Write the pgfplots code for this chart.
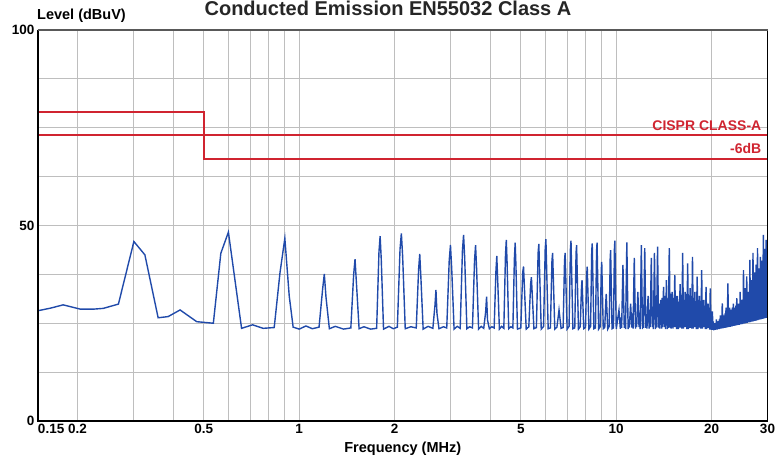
\documentclass[border=0pt]{standalone}
\usepackage{fontspec}
\setmainfont{Liberation Sans}
\usepackage{pgfplots}
\pgfplotsset{compat=1.18}

\definecolor{tracecol}{RGB}{32,74,170}
\definecolor{limitred}{RGB}{208,36,48}
\definecolor{gridgray}{RGB}{190,190,190}

\begin{document}
\begin{tikzpicture}
\begin{axis}[
    name=ax, at={(0,0)}, anchor=south west,
    scale only axis, width=729.5pt, height=391pt,
    xmode=log, xmin=0.15, xmax=30, ymin=0, ymax=100,
    xtick={0.15,0.2,0.5,1,2,5,10,20,30},
    xticklabels={\makebox[0pt][l]{0.15},0.2,0.5,1,2,5,10,20,30},
    minor xtick={0.3,0.4,0.6,0.7,0.8,0.9,3,4,6,7,8,9},
    ytick={0,50,100}, yticklabels={0,50,100},
    minor ytick={12.5,25,37.5,62.5,75,87.5},
    grid=both,
    grid style={gridgray, line width=1pt},
    major grid style={gridgray, line width=1pt},
    major tick length=0pt, minor tick length=0pt,
    axis line style={draw=none},
    tick label style={font=\fontsize{13.5}{15}\selectfont\bfseries},
    xlabel={Frequency (MHz)},
    xlabel style={font=\fontsize{14.5}{16}\selectfont\bfseries,
        at={(axis description cs:0.5,0)}, anchor=base, yshift=-32pt},
]

% limit lines: CISPR class A and the -6 dB margin
\addplot[limitred, line width=1.5pt] coordinates {(0.15,79) (0.5,79) (0.5,67) (30,67)};
\addplot[limitred, line width=1.8pt] coordinates {(0.15,73.2) (0.5,73.2) (30,73.2)};

% measured trace
\addplot[tracecol, line width=1.4pt] coordinates {
    (0.150,28.2) (0.165,28.9) (0.180,29.7) (0.204,28.6) (0.224,28.6) (0.241,28.8)
    (0.269,29.9) (0.301,45.9) (0.326,42.5) (0.359,26.4) (0.386,26.7) (0.421,28.4)
    (0.475,25.4) (0.536,25.0) (0.566,42.9) (0.598,48.3) (0.658,23.7) (0.713,24.6)
    (0.770,23.7) (0.834,23.9) (0.870,38.0) (0.901,46.7) (0.930,32.0) (0.957,24.0)
    (1.00,23.5) (1.05,24.3) (1.10,23.6)
    (1.155,24.0) (1.185,33.6) (1.200,37.6) (1.215,31.6) (1.245,23.6)
    (1.30,24.2) (1.38,23.5)
    (1.455,23.8) (1.485,37.4) (1.500,41.4) (1.515,35.4) (1.545,23.6)
    (1.60,24.1) (1.68,23.5)
    (1.755,23.7) (1.785,43.3) (1.800,47.3) (1.815,41.3) (1.845,23.5)
    (1.92,24.2) (1.98,23.6)
    (2.040,24.0) (2.080,44.0) (2.100,48.0) (2.120,42.0) (2.160,23.6)
    (2.25,24.1)
    (2.340,23.8) (2.380,38.7) (2.400,42.7) (2.420,36.7) (2.460,23.5)
    (2.55,24.2)
    (2.640,23.7) (2.680,29.5) (2.700,33.5) (2.720,27.5) (2.760,23.6)
    (2.85,24.1)
    (2.920,23.8) (2.973,41.0) (3.000,45.0) (3.027,39.0) (3.080,23.5)
    (3.15,24.2)
    (3.220,23.7) (3.273,43.6) (3.300,47.6) (3.327,41.6) (3.380,23.6)
    (3.45,24.1)
    (3.520,23.8) (3.573,41.0) (3.600,45.0) (3.627,39.0) (3.680,23.5)
    (3.75,24.2)
    (3.820,23.7) (3.873,27.8) (3.900,31.8) (3.927,25.8) (3.980,23.6)
    (4.05,24.1)
    (4.120,23.8) (4.173,38.2) (4.200,42.2) (4.227,36.2) (4.280,23.5)
    (4.35,24.2)
    (4.420,23.7) (4.473,42.3) (4.500,46.3) (4.527,40.3) (4.580,23.6)
    (4.65,24.1)
    (4.720,23.8) (4.773,41.6) (4.800,45.6) (4.827,39.6) (4.880,23.5)
    (5.0,23.8) (5.07,38.0) (5.1,39.5) (5.2,23.5)
    (5.3,24.1) (5.37,35.0) (5.4,36.8) (5.5,23.6)
    (5.6,23.9) (5.67,43.0) (5.7,45.3) (5.8,23.5)
    (5.9,24.2) (5.97,44.0) (6.0,46.5) (6.1,23.6)
    (6.2,23.8) (6.27,41.0) (6.3,43.0) (6.4,23.5)
    (6.5,24.0) (6.57,27.0) (6.6,28.4) (6.7,23.7)
    (6.8,23.9) (6.87,41.0) (6.9,43.0) (7.0,23.5)
    (7.1,24.2) (7.17,44.0) (7.2,46.1) (7.3,23.6)
    (7.4,23.8) (7.47,43.0) (7.5,45.0) (7.6,23.5)
    (7.7,24.1) (7.77,34.0) (7.8,36.0) (7.9,23.6)
    (8.0,23.9) (8.07,37.5) (8.1,39.5) (8.2,23.5)
    (8.3,24.2) (8.37,43.5) (8.4,45.4) (8.5,23.6)
    (8.6,23.8) (8.67,43.5) (8.7,45.6) (8.8,23.5)
    (8.9,24.1) (8.97,38.5) (9.0,40.7) (9.1,23.6)
    (9.2,23.9) (9.27,30.5) (9.3,32.5) (9.4,23.5)
    (9.5,24.2) (9.57,41.5) (9.6,43.7) (9.7,23.6)
    (9.8,23.8) (9.87,44.0) (9.9,46.1) (10.0,23.5)
    (10.2,28.4) (10.3,23.6) (10.35,26.5) (10.4,23.8)
    (10.5,39.9) (10.6,23.8) (10.65,27.0) (10.7,23.5)
    (10.8,45.7) (10.9,23.5) (10.95,26.0) (11.0,23.9)
    (11.1,30.0) (11.2,23.9) (11.25,27.5) (11.3,23.6)
    (11.4,41.7) (11.5,23.6) (11.55,26.5) (11.6,24.0)
    (11.7,33.0) (11.8,24.0) (11.85,27.0) (11.9,23.5)
    (12.0,45.0) (12.1,23.5) (12.15,28.0) (12.2,23.8)
    (12.3,44.2) (12.4,23.8) (12.45,27.0) (12.5,23.6)
    (12.6,32.0) (12.7,23.6) (12.75,28.5) (12.8,24.0)
    (12.9,41.7) (13.0,24.0) (13.05,27.5) (13.1,23.5)
    (13.2,43.0) (13.3,23.5) (13.35,29.0) (13.4,23.9)
    (13.5,44.6) (13.6,23.9) (13.65,30.0) (13.7,23.6)
    (13.8,31.0) (13.9,23.6) (13.95,31.5) (14.0,24.0)
    (14.1,34.3) (14.2,24.0) (14.25,32.0) (14.3,23.5)
    (14.4,36.0) (14.5,23.5) (14.55,31.0) (14.6,23.8)
    (14.7,44.2) (14.8,23.8) (14.85,32.5) (14.9,23.6)
    (15.0,33.0) (15.1,23.6) (15.15,31.5) (15.2,24.0)
    (15.3,37.3) (15.4,24.0) (15.45,32.0) (15.5,23.5)
    (15.6,32.0) (15.7,23.5) (15.75,30.5) (15.8,23.9)
    (15.9,35.0) (16.0,23.9) (16.05,32.0) (16.1,23.6)
    (16.2,43.0) (16.3,23.6) (16.35,31.0) (16.4,24.0)
    (16.5,33.0) (16.6,24.0) (16.65,32.5) (16.7,23.5)
    (16.8,40.3) (16.9,23.5) (16.95,31.0) (17.0,23.8)
    (17.1,34.0) (17.2,23.8) (17.25,32.0) (17.3,23.6)
    (17.4,42.0) (17.5,23.6) (17.55,31.5) (17.6,24.0)
    (17.7,33.0) (17.8,24.0) (17.85,30.5) (17.9,23.5)
    (18.0,36.9) (18.1,23.5) (18.15,31.0) (18.2,23.9)
    (18.3,32.0) (18.4,23.9) (18.45,30.0) (18.5,23.6)
    (18.6,38.6) (18.7,23.6) (18.75,30.5) (18.8,24.0)
    (18.9,31.0) (19.0,24.0) (19.05,29.5) (19.1,23.5)
    (19.2,34.3) (19.3,23.5) (19.35,29.0) (19.4,23.8)
    (19.5,30.0) (19.6,23.8) (19.65,28.5) (19.7,23.4)
    (19.8,33.9) (19.9,23.4) (19.95,27.0) (20.0,23.3)
    (20.1,28.0) (20.2,23.3) (20.25,25.5) (20.3,23.2)
    (20.4,25.0) (20.5,23.3) (20.55,25.0) (20.6,23.4)
    (20.7,26.0) (20.8,23.4) (20.85,25.5) (20.9,23.5)
    (21.0,25.5) (21.1,23.5) (21.15,26.0) (21.2,23.6)
    (21.3,27.0) (21.4,23.6) (21.45,26.5) (21.5,23.7)
    (21.6,30.1) (21.7,23.7) (21.75,27.0) (21.8,23.8)
    (21.9,27.0) (22.0,23.8) (22.05,27.5) (22.1,23.9)
    (22.2,29.0) (22.3,23.9) (22.35,28.0) (22.4,24.0)
    (22.5,35.2) (22.6,24.0) (22.65,28.5) (22.7,24.1)
    (22.8,29.0) (22.9,24.1) (22.95,28.5) (23.0,24.2)
    (23.1,28.0) (23.2,24.2) (23.25,29.0) (23.3,24.3)
    (23.4,30.0) (23.5,24.3) (23.55,29.0) (23.6,24.4)
    (23.7,29.0) (23.8,24.4) (23.85,29.5) (23.9,24.5)
    (24.0,31.4) (24.1,24.5) (24.15,30.0) (24.2,24.6)
    (24.3,30.0) (24.4,24.6) (24.45,30.0) (24.5,24.7)
    (24.6,33.0) (24.7,24.7) (24.75,30.5) (24.8,24.8)
    (24.9,31.0) (25.0,24.8) (25.05,31.0) (25.1,24.9)
    (25.2,38.6) (25.3,24.9) (25.35,31.5) (25.4,25.0)
    (25.5,34.0) (25.6,25.0) (25.65,32.0) (25.7,25.1)
    (25.8,37.0) (25.9,25.1) (25.95,32.0) (26.0,25.2)
    (26.1,33.0) (26.2,25.2) (26.25,32.5) (26.3,25.3)
    (26.4,41.2) (26.5,25.3) (26.55,33.0) (26.6,25.4)
    (26.7,36.0) (26.8,25.4) (26.85,33.0) (26.9,25.5)
    (27.0,43.0) (27.1,25.5) (27.15,33.5) (27.2,25.6)
    (27.3,38.0) (27.4,25.6) (27.45,34.0) (27.5,25.7)
    (27.6,40.0) (27.7,25.7) (27.75,34.0) (27.8,25.8)
    (27.9,44.2) (28.0,25.8) (28.05,34.5) (28.1,25.9)
    (28.2,39.0) (28.3,25.9) (28.35,35.0) (28.4,26.0)
    (28.5,42.0) (28.6,26.0) (28.65,35.0) (28.7,26.1)
    (28.8,41.0) (28.9,26.1) (28.95,35.5) (29.0,26.2)
    (29.1,47.6) (29.2,26.2) (29.25,36.0) (29.3,26.3)
    (29.4,44.0) (29.5,26.3) (29.55,36.0) (29.6,26.4)
    (29.7,46.3) (29.8,26.4) (29.85,36.0) (29.9,26.5)
    (30.0,42.0)
};

\node[anchor=base east, inner sep=0pt, text=limitred, xshift=-6pt, yshift=5.5pt,
    font=\fontsize{14}{16}\selectfont\bfseries] at (axis cs:30,73) {CISPR CLASS-A};
\node[anchor=base east, inner sep=0pt, text=limitred, xshift=-6pt, yshift=5.3pt,
    font=\fontsize{14}{16}\selectfont\bfseries] at (axis cs:30,67) {-6dB};
\end{axis}

% frame
\draw[black, line width=2pt] (ax.north west) -- (ax.south west) -- (ax.south east);
\draw[black, line width=1.5pt] (ax.south east) -- (ax.north east);
\draw[black!65, line width=1.5pt] (ax.north west) -- (ax.north east);

\node[anchor=base west, inner sep=0pt, font=\fontsize{14.5}{16}\selectfont\bfseries]
    at ([xshift=-1pt,yshift=10pt]ax.north west) {Level (dBuV)};
\node[anchor=base, inner sep=0pt, text=black!85, font=\fontsize{20}{24}\selectfont\bfseries]
    at ([xshift=350pt,yshift=14.5pt]ax.north west) {Conducted Emission EN55032 Class A};

\pgfresetboundingbox
\useasboundingbox ([xshift=-38pt,yshift=-38pt]ax.south west)
    rectangle ([xshift=9.5pt,yshift=30pt]ax.north east);
\end{tikzpicture}
\end{document}
